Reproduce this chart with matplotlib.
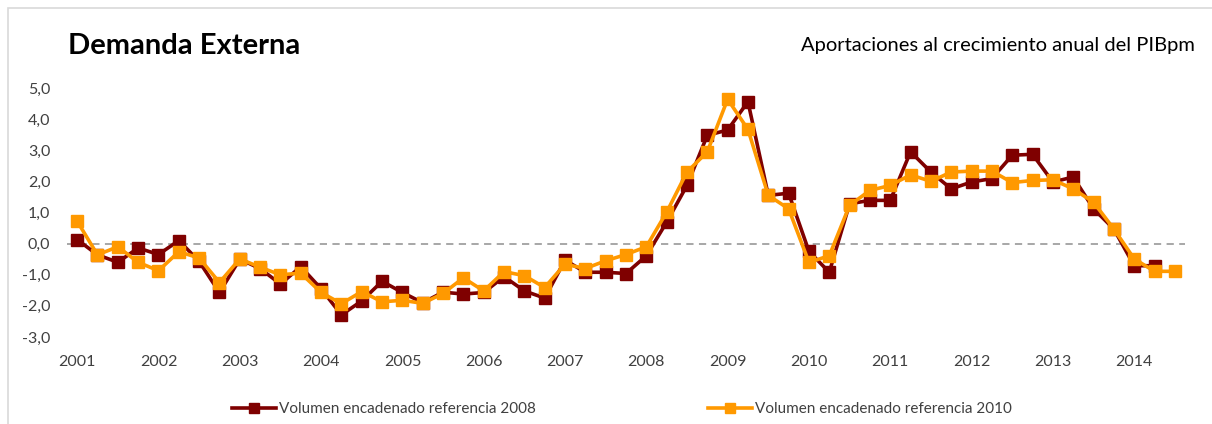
import matplotlib.pyplot as plt
from matplotlib.patches import Rectangle

# Quarterly data 2001Q1 - 2014Q3
years = ['2001', '2002', '2003', '2004', '2005', '2006', '2007',
         '2008', '2009', '2010', '2011', '2012', '2013', '2014']

ref_2008 = [0.13, -0.36, -0.60, -0.14, -0.35, 0.10, -0.57, -1.57,
            -0.50, -0.80, -1.30, -0.74, -1.45, -2.29, -1.84, -1.21,
            -1.57, -1.90, -1.56, -1.62, -1.57, -1.06, -1.52, -1.75,
            -0.53, -0.92, -0.92, -0.96, -0.39, 0.69, 1.87, 3.48,
            3.65, 4.56, 1.55, 1.62, -0.25, -0.92, 1.28, 1.39,
            1.39, 2.95, 2.30, 1.76, 1.98, 2.09, 2.84, 2.87,
            1.98, 2.14, 1.12, 0.47, -0.71, -0.71]

ref_2010 = [0.72, -0.36, -0.10, -0.60, -0.87, -0.26, -0.46, -1.25,
            -0.49, -0.76, -1.00, -0.95, -1.57, -1.93, -1.54, -1.87,
            -1.82, -1.92, -1.60, -1.10, -1.52, -0.90, -1.03, -1.41,
            -0.66, -0.80, -0.55, -0.35, -0.10, 1.01, 2.30, 2.95,
            4.64, 3.67, 1.55, 1.12, -0.60, -0.39, 1.23, 1.71,
            1.87, 2.21, 2.00, 2.30, 2.33, 2.33, 1.96, 2.03,
            2.05, 1.76, 1.33, 0.47, -0.49, -0.89, -0.89]

dark = '#7F0000'
orange = '#FF9900'
txt = '#404040'

plt.rcParams['font.family'] = ['Lato', 'DejaVu Sans']

W, H = 1212, 424
fig = plt.figure(figsize=(W / 100, H / 100), dpi=100)
fig.patch.set_facecolor('white')

# light grey chart frame
fig.patches.append(Rectangle((8 / W, -0.1), 1.1, 1.1 - 8 / H,
                             transform=fig.transFigure, fill=False,
                             edgecolor='#D9D9D9', linewidth=1.2))

ax = fig.add_axes([67 / W, 1 - 337 / H, (1185 - 67) / W, (337 - 88) / H])
ax.set_facecolor('none')

x8 = list(range(len(ref_2008)))
x10 = list(range(len(ref_2010)))

ax.axhline(0, color='#A0A0A0', linewidth=1.3, linestyle=(0, (4, 3)), zorder=1)
l8, = ax.plot(x8, ref_2008, color=dark, linewidth=2.6, marker='s', markersize=8,
              zorder=2, label='Volumen encadenado referencia 2008')
l10, = ax.plot(x10, ref_2010, color=orange, linewidth=2.6, marker='s', markersize=8,
               zorder=3, label='Volumen encadenado referencia 2010')

ax.set_xlim(-0.5, 54.5)
ax.set_ylim(-3, 5)
ax.set_yticks(range(-3, 6))
ax.set_yticklabels([f'{v:.1f}'.replace('.', ',') for v in range(-3, 6)])
ax.set_xticks(range(0, 4 * len(years), 4))
ax.set_xticklabels(years)
for s in ax.spines.values():
    s.set_visible(False)
ax.tick_params(axis='both', length=0, labelsize=11.5, labelcolor=txt)
ax.tick_params(axis='y', pad=12)
ax.tick_params(axis='x', pad=13)

fig.text(68 / W, 1 - 46 / H, 'Demanda Externa', fontsize=21, fontweight='bold',
         color='black', va='center', ha='left')
fig.text(1195 / W, 1 - 46 / H, 'Aportaciones al crecimiento anual del PIBpm',
         fontsize=14.5, color='black', va='center', ha='right')

for h, xpos in [(l8, 232), (l10, 708)]:
    fig.legend([h], [h.get_label()], loc='center left',
               bbox_to_anchor=(xpos / W, 1 - 409 / H), frameon=False,
               fontsize=11, handlelength=2.9, handletextpad=0.15,
               borderpad=0, borderaxespad=0, markerscale=0.9,
               labelcolor=txt)

fig.savefig('out.png', dpi=100)
